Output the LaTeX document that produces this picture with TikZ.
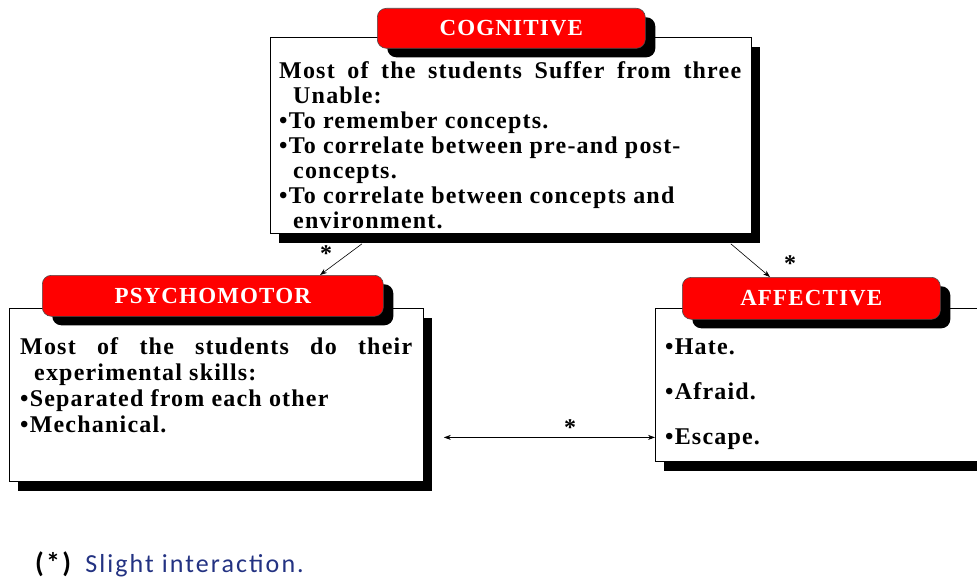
\documentclass[tikz,border=0pt]{standalone}
\usepackage{fontspec}
\setmainfont{Liberation Serif}
\newfontfamily\bodyfont[LetterSpace=5]{Liberation Serif}
\newfontfamily\notefont[LetterSpace=8]{Carlito}

\usetikzlibrary{shadows,arrows.meta}

\definecolor{noteblue}{RGB}{35,50,130}

\tikzset{
    boxbody/.style={draw=black, line width=0.8pt, fill=white, anchor=north west, inner sep=0pt,
        drop shadow={shadow xshift=9pt, shadow yshift=-10pt, fill=black, opacity=1}},
    boxtitle/.style={draw=black!70, line width=0.6pt, fill=red, rounded corners=9pt,
        anchor=north west, inner sep=0pt, text=white,
        font=\bodyfont\bfseries\fontsize{23}{23}\selectfont,
        drop shadow={shadow xshift=10pt, shadow yshift=-9pt, fill=black, opacity=1}},
    boxtext/.style={anchor=north west, inner sep=0pt, align=left,
        font=\bodyfont\bfseries\fontsize{24}{25}\selectfont},
    starmark/.style={inner sep=0pt, font=\bfseries\fontsize{24}{24}\selectfont},
    link/.style={-{Stealth[length=7pt,width=5pt]}, line width=0.6pt},
}

\begin{document}
\begin{tikzpicture}[x=1pt, y=-1pt]
    \clip (0,0) rectangle (977,580);
    % Define boxes
    \node[boxbody, minimum width=481pt, minimum height=196pt] (cogbox) at (270,37) {};
    \node[boxtitle, minimum width=268pt, minimum height=40pt] (cogtitle) at (377,8) {COGNITIVE};
    \node[boxtext] (cogtext) at (279,61) {%
        \makebox[462pt][s]{Most of the students Suffer from three}\\
        \hspace*{14pt}Unable:\\
        •To remember concepts.\\
        •To correlate between pre-and post-\\
        \hspace*{14pt}concepts.\\
        •To correlate between concepts and\\
        \hspace*{14pt}environment.};

    \node[boxbody, minimum width=414pt, minimum height=173pt] (psybox) at (9,308) {};
    \node[boxtitle, minimum width=341pt, minimum height=41pt] (psytitle) at (42,275) {PSYCHOMOTOR};
    \node[boxtext, font=\bodyfont\bfseries\fontsize{24}{26}\selectfont] (psytext) at (20,337) {%
        \makebox[392pt][s]{Most of the students do their}\\
        \hspace*{14pt}experimental skills:\\
        •Separated from each other\\
        •Mechanical.};

    \node[boxbody, minimum width=340pt, minimum height=153pt] (affbox) at (655,308) {};
    \node[boxtitle, minimum width=258pt, minimum height=42pt] (afftitle) at (682,277) {AFFECTIVE};
    \node[boxtext, font=\bodyfont\bfseries\fontsize{24}{45}\selectfont] (afftext) at (665,339) {%
        •Hate.\\
        •Afraid.\\
        •Escape.};

    % Draw arrows
    \coordinate (hleft) at ([xshift=20pt, yshift=-42.5pt]psybox.east);
    \coordinate (hright) at ([yshift=-52.5pt]affbox.west);
    \draw[link] ([xshift=92pt, yshift=-10pt]cogbox.south west) -- ([xshift=278pt]psytitle.north west);
    \draw[link] ([xshift=-21pt, yshift=-10pt]cogbox.south east) -- ([xshift=88pt]afftitle.north west);
    \draw[line width=0.6pt, {Stealth[length=7pt,width=5pt]}-{Stealth[length=7pt,width=5pt]}] (hleft) -- (hright);
    \node[starmark] (star1) at (326,254) {*};
    \node[starmark] (star2) at (790,264) {*};
    \node[starmark] (star3) at (570,428) {*};

    % Note
    \node[anchor=base west, inner sep=0pt, font=\notefont\fontsize{26}{26}\selectfont] (note) at (35,572)
        {\textbf{\fontsize{28}{28}\selectfont(*)}\hspace{12pt}\textcolor{noteblue}{Slight interaction.}};
\end{tikzpicture}
\end{document}
